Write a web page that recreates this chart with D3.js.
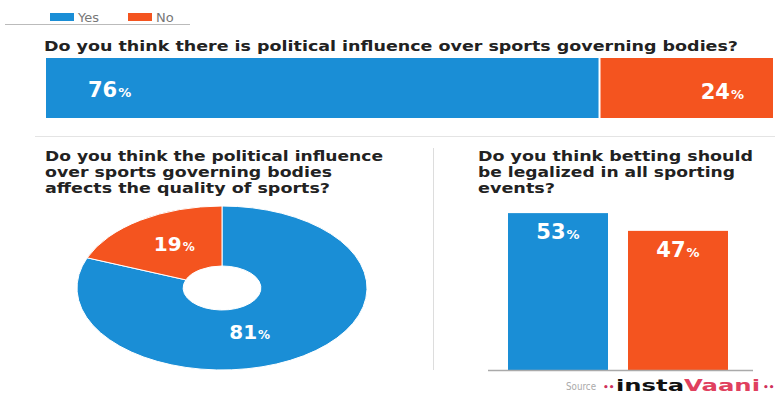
<!DOCTYPE html>
<html>
<head>
<meta charset="utf-8">
<script src="https://cdn.jsdelivr.net/npm/d3@7"></script>
<style>
  body { margin: 0; background: #fff; }
  text { font-family: "DejaVu Sans", sans-serif; }
</style>
</head>
<body>
<div id="chart"></div>
<script>
// survey data
const answers = ["Yes", "No"];
const q1Values = [76, 24];
const q2Values = [81, 19];
const q3Values = [53, 47];
const q1Title = ["Do you think there is political influence over sports governing bodies?"];
const q2Title = ["Do you think the political influence", "over sports governing bodies", "affects the quality of sports?"];
const q3Title = ["Do you think betting should", "be legalized in all sporting", "events?"];

document.addEventListener("DOMContentLoaded", function() {
    const width = 778,
        height = 403;

    const svg = d3.select("#chart")
        .append("svg")
        .attr("width", width)
        .attr("height", height);

    const color = d3.scaleOrdinal()
        .domain(answers)
        .range(["#1a8ed6", "#f4541f"]);

    function pctLabel(sel, v, big, small) {
        sel.append("tspan").style("font-size", big + "px").text(v);
        sel.append("tspan").style("font-size", small + "px").attr("dx", 1).text("%");
    }

    function title(lines, x, y, lens) {
        const t = svg.append("text")
            .attr("fill", "#222")
            .style("font-size", "14px")
            .style("font-weight", "bold");
        lines.forEach((l, i) => {
            t.append("tspan")
                .attr("x", x)
                .attr("y", y + i * 16)
                .attr("textLength", lens[i])
                .attr("lengthAdjust", "spacingAndGlyphs")
                .text(l);
        });
    }

    // legend
    const legend = svg.append("g").attr("transform", "translate(50, 13)");
    const legendX = [0, 78];
    answers.forEach((a, i) => {
        legend.append("rect")
            .attr("x", legendX[i])
            .attr("width", 24)
            .attr("height", 8)
            .attr("fill", color(a));
        legend.append("text")
            .attr("x", legendX[i] + 28)
            .attr("y", 9)
            .attr("fill", "#777")
            .style("font-size", "13px")
            .text(a);
    });
    svg.append("line")
        .attr("x1", 5).attr("x2", 190)
        .attr("y1", 24.5).attr("y2", 24.5)
        .attr("stroke", "#bbb");

    // question 1: stacked bar
    title(q1Title, 44, 51, [694]);

    const x1 = d3.scaleLinear().domain([0, 100]).range([46, 773]);
    const stack = d3.cumsum(q1Values);
    const q1 = answers.map((a, i) => ({ key: a, v: q1Values[i], x0: stack[i] - q1Values[i], x1: stack[i] }));

    svg.append("g")
        .selectAll("rect")
        .data(q1)
        .join("rect")
        .attr("x", d => x1(d.x0) + (d.x0 > 0 ? 2 : 0))
        .attr("width", d => x1(d.x1) - x1(d.x0) - (d.x0 > 0 ? 2 : 0))
        .attr("y", 58)
        .attr("height", 60)
        .attr("fill", d => color(d.key));

    svg.append("g")
        .selectAll("text")
        .data(q1)
        .join("text")
        .attr("x", d => d.x0 === 0 ? x1(d.x0) + 42 : x1(d.x1) - 29)
        .attr("y", (d, i) => 97 + i * 2)
        .attr("text-anchor", d => d.x0 === 0 ? "start" : "end")
        .attr("fill", "#fff")
        .style("font-weight", "bold")
        .each(function(d) { pctLabel(d3.select(this), d.v, 21, 13); });

    // separators
    svg.append("line")
        .attr("x1", 35).attr("x2", 775)
        .attr("y1", 136.5).attr("y2", 136.5)
        .attr("stroke", "#e4e4e4");
    svg.append("line")
        .attr("x1", 433.5).attr("x2", 433.5)
        .attr("y1", 148).attr("y2", 370)
        .attr("stroke", "#ddd");

    // question 2: donut (squashed into an ellipse)
    title(q2Title, 45, 161, [338, 287, 285]);

    const rx = 145, ry = 82;
    const pie = d3.pie().sort(null);
    const arc = d3.arc().innerRadius(22).outerRadius(ry);
    const labelArc = d3.arc().innerRadius(50).outerRadius(50);
    const arcs = pie(q2Values);

    const donut = svg.append("g")
        .attr("transform", `translate(222, 288) scale(${rx / ry}, 1)`);
    donut.selectAll("path")
        .data(arcs)
        .join("path")
        .attr("d", arc)
        .attr("fill", (d, i) => color(answers[i]))
        .attr("stroke", "#fff")
        .attr("stroke-width", 1)
        .attr("vector-effect", "non-scaling-stroke");

    svg.append("g")
        .selectAll("text")
        .data(arcs)
        .join("text")
        .attr("x", d => 222 + labelArc.centroid(d)[0] * rx / ry - (d.index === 0 ? 22 : -2))
        .attr("y", d => 288 + labelArc.centroid(d)[1] + (d.index === 0 ? 10 : 4))
        .attr("text-anchor", "middle")
        .attr("fill", "#fff")
        .style("font-weight", "bold")
        .each(function(d) { pctLabel(d3.select(this), d.value, 20, 12); });

    // question 3: bars
    title(q3Title, 478, 161, [275, 257, 77]);

    const x3 = d3.scaleBand()
        .domain(answers)
        .range([498, 738])
        .paddingInner(1 / 6)
        .paddingOuter(1 / 12);
    const y3 = d3.scaleLinear().domain([0, 100]).range([370, 74]);

    svg.append("g")
        .selectAll("rect")
        .data(q3Values)
        .join("rect")
        .attr("x", (d, i) => x3(answers[i]))
        .attr("width", x3.bandwidth())
        .attr("y", d => y3(d))
        .attr("height", d => y3(0) - y3(d))
        .attr("fill", (d, i) => color(answers[i]));

    svg.append("g")
        .selectAll("text")
        .data(q3Values)
        .join("text")
        .attr("x", (d, i) => x3(answers[i]) + x3.bandwidth() / 2)
        .attr("y", d => y3(d) + 26)
        .attr("text-anchor", "middle")
        .attr("fill", "#fff")
        .style("font-weight", "bold")
        .each(function(d) { pctLabel(d3.select(this), d, 21, 13); });

    svg.append("line")
        .attr("x1", 488).attr("x2", 753)
        .attr("y1", y3(0) + 0.5).attr("y2", y3(0) + 0.5)
        .attr("stroke", "#aaa")
        .attr("stroke-width", 1.5);

    // source
    svg.append("text")
        .attr("x", 566)
        .attr("y", 390)
        .attr("fill", "#aaa")
        .attr("textLength", 30)
        .attr("lengthAdjust", "spacingAndGlyphs")
        .style("font-size", "11px")
        .text("Source");
    svg.append("text")
        .attr("x", 603)
        .attr("y", 390)
        .attr("fill", "#d0305a")
        .style("font-size", "9px")
        .style("font-weight", "bold")
        .text("\u2022\u2022");
    const brand = svg.append("text")
        .attr("x", 616)
        .attr("y", 391)
        .style("font-size", "16px")
        .style("font-weight", "bold");
    brand.append("tspan").attr("fill", "#111").attr("textLength", 68)
        .attr("lengthAdjust", "spacingAndGlyphs").text("insta");
    brand.append("tspan").attr("fill", "#e0405e").attr("textLength", 76)
        .attr("lengthAdjust", "spacingAndGlyphs").text("Vaani");
    svg.append("text")
        .attr("x", 763)
        .attr("y", 390)
        .attr("fill", "#d0305a")
        .style("font-size", "9px")
        .style("font-weight", "bold")
        .text("\u2022\u2022");
});
</script>
</body>
</html>
